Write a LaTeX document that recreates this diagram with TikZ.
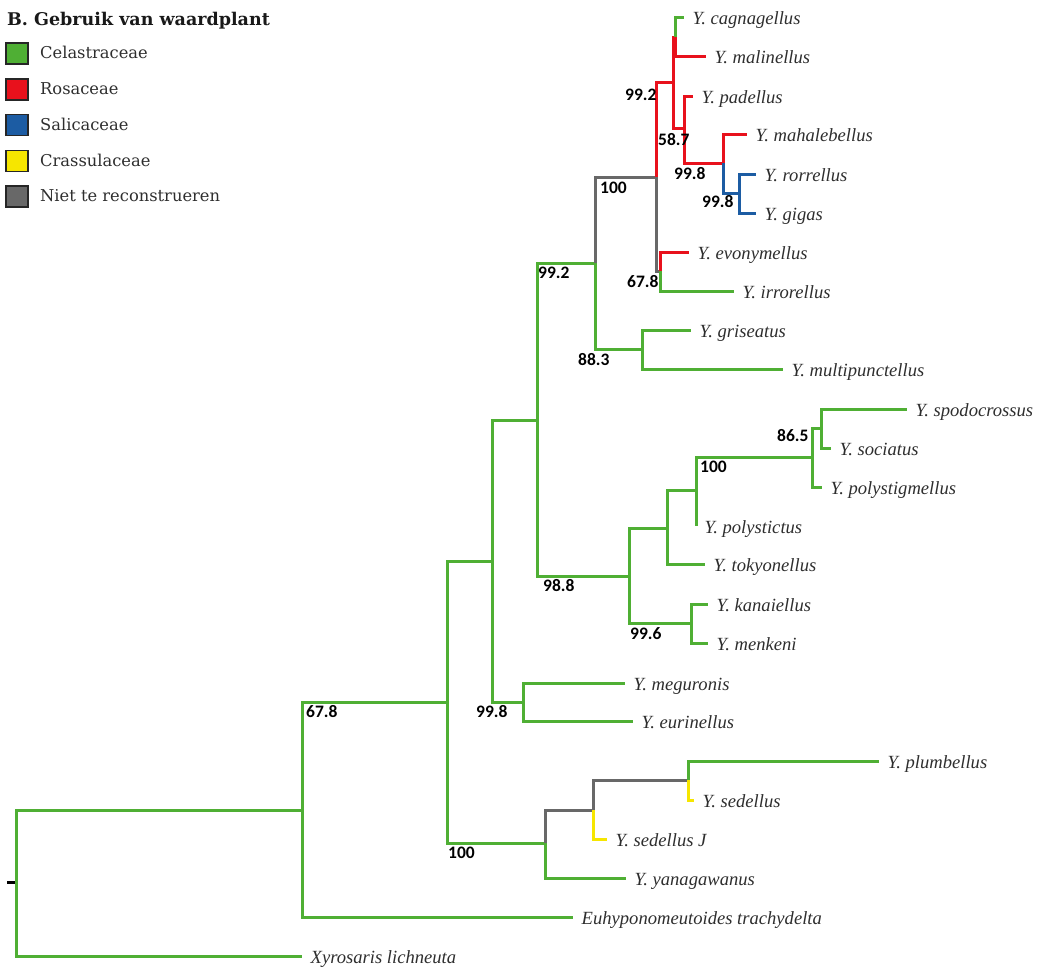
\documentclass[tikz,border=0pt]{standalone}
\usepackage{fontspec}
\newfontfamily\legfont{DejaVu Serif}
\newfontfamily\numfont{Carlito}
\newfontfamily\taxfont{Liberation Serif}
\definecolor{cgreen}{HTML}{4FAF34}
\definecolor{cred}{HTML}{E8111C}
\definecolor{cblue}{HTML}{1C5CA3}
\definecolor{cyellow}{HTML}{F6E600}
\definecolor{cgray}{HTML}{686868}
\definecolor{txt}{HTML}{2E2E2E}
\begin{document}
\begin{tikzpicture}[x=1pt,y=-1pt,
  br/.style={line width=3pt, line join=miter},
  eg/.style={br,draw=cgreen}, er/.style={br,draw=cred}, eb/.style={br,draw=cblue},
  ey/.style={br,draw=cyellow}, egr/.style={br,draw=cgray}, ek/.style={br,draw=black},
  leaf/.style={anchor=west, inner xsep=8.5pt, inner ysep=0pt, text height=15pt, text depth=0pt,
    font=\taxfont\itshape\fontsize{18.6}{22}\selectfont, text=txt},
  supp/.style={anchor=base west, inner sep=0pt, font=\numfont\bfseries\fontsize{17.5}{20}\selectfont, text=black},
  legbox/.style={draw=black!85, line width=1.2pt, minimum width=22pt, minimum height=21pt, inner sep=0pt},
  legtext/.style={anchor=base west, inner sep=0pt, font=\legfont\fontsize{16.3}{20}\selectfont, text=txt}
]
\useasboundingbox (0,0) rectangle (1037,967);

% ---------- legend ----------
\node[anchor=base west, inner sep=0pt, font=\legfont\bfseries\fontsize{17.5}{20}\selectfont, text=black!90] (title) at (7,25) {B. Gebruik van waardplant};
\node[legbox, fill=cgreen] (lb1) at (17,53.5) {};
\node[legbox, fill=cred] (lb2) at (17,89.5) {};
\node[legbox, fill=cblue] (lb3) at (17,125) {};
\node[legbox, fill=cyellow] (lb4) at (17,161) {};
\node[legbox, fill=cgray] (lb5) at (17,196.5) {};
\node[legtext] (lt1) at (40,58.5) {Celastraceae};
\node[legtext] (lt2) at (40,94.5) {Rosaceae};
\node[legtext] (lt3) at (40,130) {Salicaceae};
\node[legtext] (lt4) at (40,166) {Crassulaceae};
\node[legtext] (lt5) at (40,201.5) {Niet te reconstrueren};

% ---------- internal nodes ----------
\coordinate (R0) at (7,882);
\coordinate (R) at (16,882);
\coordinate (A) at (302,810);
\coordinate (B) at (447,702);
\coordinate (C) at (492,561);
\coordinate (D) at (545,843);
\coordinate (E) at (537,420);
\coordinate (F) at (523,702);
\coordinate (G) at (595,263);
\coordinate (H) at (629,576);
\coordinate (I) at (656,177);
\coordinate (J) at (642,349);
\coordinate (K) at (673,82);
\coordinate (L) at (660,271);
\coordinate (M) at (675,37);
\coordinate (N) at (684,128);
\coordinate (O) at (723,163);
\coordinate (P) at (739,193);
\coordinate (Q) at (667,528);
\coordinate (S) at (691,623);
\coordinate (T) at (696,490);
\coordinate (U) at (812,457);
\coordinate (V) at (821,428);
\coordinate (W) at (593,810);
\coordinate (X) at (688,780);

% ---------- leaves ----------
\node[leaf] (cag) at (684,17) {Y. cagnagellus};
\node[leaf] (mal) at (706,56) {Y. malinellus};
\node[leaf] (pad) at (693,96) {Y. padellus};
\node[leaf] (mah) at (747,134) {Y. mahalebellus};
\node[leaf] (ror) at (756,174) {Y. rorrellus};
\node[leaf] (gig) at (756,213) {Y. gigas};
\node[leaf] (evo) at (689,252) {Y. evonymellus};
\node[leaf] (irr) at (734,291) {Y. irrorellus};
\node[leaf] (gri) at (691,330) {Y. griseatus};
\node[leaf] (mul) at (783,369) {Y. multipunctellus};
\node[leaf] (spo) at (907,409) {Y. spodocrossus};
\node[leaf] (soc) at (831,448) {Y. sociatus};
\node[leaf] (pst) at (822,487) {Y. polystigmellus};
\node[leaf] (psc) at (696,526) {Y. polystictus};
\node[leaf] (tok) at (705,564) {Y. tokyonellus};
\node[leaf] (kan) at (708,604) {Y. kanaiellus};
\node[leaf] (men) at (708,643) {Y. menkeni};
\node[leaf] (meg) at (625,683) {Y. meguronis};
\node[leaf] (eur) at (633,721) {Y. eurinellus};
\node[leaf] (plu) at (879,761) {Y. plumbellus};
\node[leaf] (sed) at (694,800) {Y. sedellus};
\node[leaf] (sej) at (607,839) {Y. sedellus J};
\node[leaf] (yan) at (626,878) {Y. yanagawanus};
\node[leaf] (euh) at (573,917) {Euhyponomeutoides trachydelta};
\node[leaf] (xyr) at (302,956) {Xyrosaris lichneuta};

% ---------- branches ----------
\draw[ek] (R0) -- (R);
\draw[eg] (R) |- (A);
\draw[eg] (R) |- (xyr.west);
\draw[eg] (A) |- (B);
\draw[eg] (A) |- (euh.west);
\draw[eg] (B) |- (C);
\draw[eg] (B) |- (D);
\draw[eg] (C) |- (E);
\draw[eg] (C) |- (F);
\draw[eg] (F) |- (meg.west);
\draw[eg] (F) |- (eur.west);
\draw[eg] (E) |- (G);
\draw[eg] (E) |- (H);
\draw[eg] (G) |- (J);
\draw[eg] (J) |- (gri.west);
\draw[eg] (J) |- (mul.west);
\draw[egr] (G) |- (I);
\draw[egr] (I) |- (L);
\draw[er] (L) |- (evo.west);
\draw[eg] (L) |- (irr.west);
\draw[er] (I) |- (K);
\draw[er] (K) |- (M);
\draw[eg] (M) |- (cag.west);
\draw[er] (M) |- (mal.west);
\draw[er] (K) |- (N);
\draw[er] (N) |- (pad.west);
\draw[er] (N) |- (O);
\draw[er] (O) |- (mah.west);
\draw[eb] (O) |- (P);
\draw[eb] (P) |- (ror.west);
\draw[eb] (P) |- (gig.west);
\draw[eg] (H) |- (Q);
\draw[eg] (H) |- (S);
\draw[eg] (S) |- (kan.west);
\draw[eg] (S) |- (men.west);
\draw[eg] (Q) |- (T);
\draw[eg] (Q) |- (tok.west);
\draw[eg] (T) |- (U);
\draw[eg] (T) |- (psc.west);
\draw[eg] (U) |- (V);
\draw[eg] (U) |- (pst.west);
\draw[eg] (V) |- (spo.west);
\draw[eg] (V) |- (soc.west);
\draw[eg] (D) |- (yan.west);
\draw[egr] (D) |- (W);
\draw[ey] (W) |- (sej.west);
\draw[egr] (W) |- (X);
\draw[eg] (X) |- (plu.west);
\draw[ey] (X) |- (sed.west);

% ---------- support values ----------
\node[supp] (sK) at (625,100) {99.2};
\node[supp] (sN) at (658,145) {58.7};
\node[supp] (sO) at (674,179) {99.8};
\node[supp] (sP) at (702,207) {99.8};
\node[supp] (sI) at (600,193) {100};
\node[supp] (sL) at (627,287) {67.8};
\node[supp] (sG) at (538,278) {99.2};
\node[supp] (sJ) at (578,365) {88.3};
\node[supp] (sH) at (543,591) {98.8};
\node[supp] (sS) at (630,639) {99.6};
\node[supp] (sU) at (700,472) {100};
\node[supp] (sV) at (777,441) {86.5};
\node[supp] (sC) at (476,717) {99.8};
\node[supp] (sD) at (448,858) {100};
\node[supp] (sA) at (306,717) {67.8};
\end{tikzpicture}
\end{document}
